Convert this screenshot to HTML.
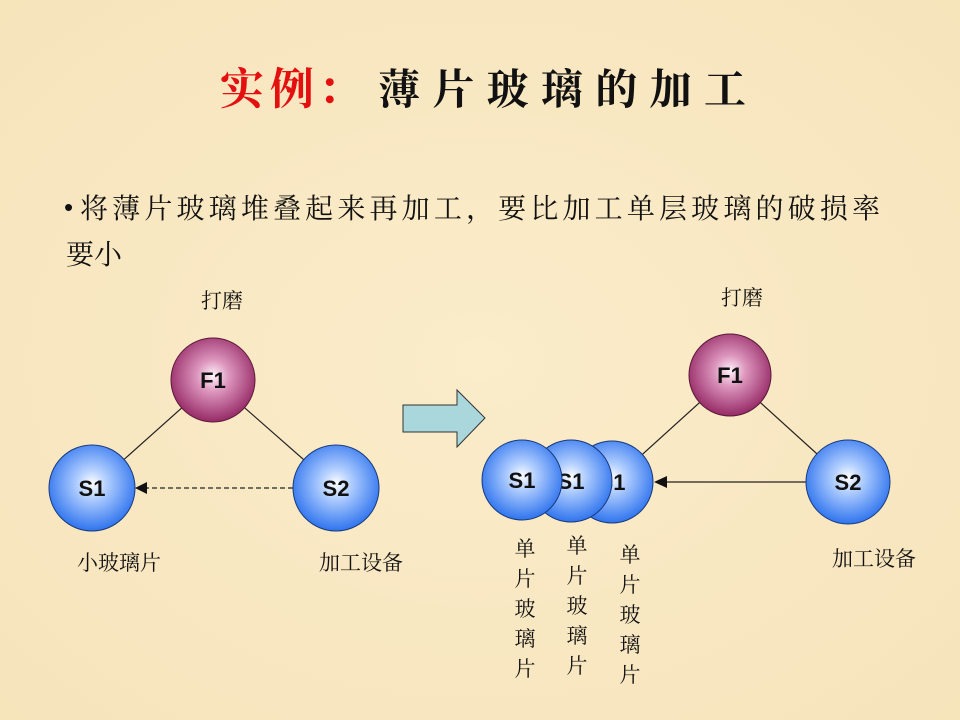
<!DOCTYPE html>
<html><head><meta charset="utf-8"><style>
html,body{margin:0;padding:0}
body{width:960px;height:720px;background:#f9e9c6;overflow:hidden}
svg{display:block}
.s{font-family:"Noto Serif CJK SC",serif}
.c{font-family:"Noto Serif CJK SC","Noto Sans CJK SC",serif}
.n{font-family:"Liberation Sans",sans-serif;font-weight:bold;font-size:22px;fill:#111}
</style></head><body>
<svg width="960" height="720" viewBox="0 0 960 720">
<defs>
<radialGradient id="b" cx="50%" cy="45%" r="55%">
<stop offset="0" stop-color="#ffffff"/><stop offset="0.3" stop-color="#b4d0ff"/><stop offset="1" stop-color="#2f74ee"/>
</radialGradient>
<radialGradient id="p" cx="50%" cy="45%" r="55%">
<stop offset="0" stop-color="#fff4fa"/><stop offset="0.35" stop-color="#dc95bd"/><stop offset="1" stop-color="#962a66"/>
</radialGradient>
<radialGradient id="bg" cx="50%" cy="50%" r="70%">
<stop offset="0" stop-color="#fbecca"/><stop offset="1" stop-color="#f6e4bb"/>
</radialGradient>
</defs>
<rect width="960" height="720" fill="url(#bg)"/>
<g class="s" font-size="44" font-weight="bold" fill="#e41010">
<text x="220" y="104">实</text><text x="270" y="104">例</text><text x="318" y="104">：</text>
</g>
<text x="378" y="104" class="s" font-size="42" font-weight="bold" fill="#111" textLength="368">薄片玻璃的加工</text>
<text x="64" y="216" font-family="Liberation Sans,sans-serif" font-size="26" fill="#111">•</text>
<text x="80" y="218" class="c" font-size="28" fill="#111" textLength="800">将薄片玻璃堆叠起来再加工，要比加工单层玻璃的破损率</text>
<text x="66" y="264" class="c" font-size="28" fill="#111">要小</text>

<line x1="213" y1="380" x2="92" y2="488" stroke="#222" stroke-width="1.2"/>
<line x1="213" y1="380" x2="336" y2="488" stroke="#222" stroke-width="1.2"/>
<line x1="293" y1="488" x2="146" y2="488" stroke="#222" stroke-width="1.3" stroke-dasharray="5,3"/>
<polygon points="135,488 147,482 147,494" fill="#111"/>
<circle cx="213" cy="380" r="42" fill="url(#p)" stroke="#5a1a3a" stroke-width="1"/>
<circle cx="92" cy="488" r="43" fill="url(#b)" stroke="#1a3a7a" stroke-width="1"/>
<circle cx="336" cy="488" r="43" fill="url(#b)" stroke="#1a3a7a" stroke-width="1"/>
<text x="213" y="388" text-anchor="middle" class="n">F1</text>
<text x="92" y="496" text-anchor="middle" class="n">S1</text>
<text x="336" y="496" text-anchor="middle" class="n">S2</text>
<text x="222" y="308" text-anchor="middle" class="c" font-size="21" fill="#111">打磨</text>
<text x="77" y="570" class="c" font-size="21" fill="#111">小玻璃片</text>
<text x="319" y="570" class="c" font-size="21" fill="#111">加工设备</text>

<polygon points="403,405 457,405 457,390 485,418 457,447 457,432 403,432" fill="#a9d7dc" stroke="#333" stroke-width="1"/>

<line x1="730" y1="375" x2="613" y2="481" stroke="#222" stroke-width="1.2"/>
<line x1="730" y1="375" x2="848" y2="482" stroke="#222" stroke-width="1.2"/>
<line x1="806" y1="482" x2="664" y2="482" stroke="#222" stroke-width="1.3"/>
<polygon points="654,482 667,476 667,488" fill="#111"/>
<circle cx="612" cy="482" r="41" fill="url(#b)" stroke="#1a3a7a" stroke-width="1"/>
<text x="612" y="490" text-anchor="middle" class="n">S1</text>
<circle cx="571" cy="481" r="41" fill="url(#b)" stroke="#1a3a7a" stroke-width="1"/>
<text x="571" y="489" text-anchor="middle" class="n">S1</text>
<circle cx="522" cy="480" r="40" fill="url(#b)" stroke="#1a3a7a" stroke-width="1"/>
<text x="522" y="488" text-anchor="middle" class="n">S1</text>
<circle cx="730" cy="375" r="41" fill="url(#p)" stroke="#5a1a3a" stroke-width="1"/>
<text x="730" y="383" text-anchor="middle" class="n">F1</text>
<circle cx="848" cy="482" r="42" fill="url(#b)" stroke="#1a3a7a" stroke-width="1"/>
<text x="848" y="490" text-anchor="middle" class="n">S2</text>
<text x="742" y="305" text-anchor="middle" class="c" font-size="21" fill="#111">打磨</text>
<text x="832" y="566" class="c" font-size="21" fill="#111">加工设备</text>

<g class="c" font-size="21" fill="#111" text-anchor="middle">
<text x="525" y="556">单</text><text x="525" y="586">片</text><text x="525" y="616">玻</text><text x="525" y="646">璃</text><text x="525" y="676">片</text>
<text x="577" y="553">单</text><text x="577" y="583">片</text><text x="577" y="613">玻</text><text x="577" y="643">璃</text><text x="577" y="673">片</text>
<text x="630" y="562">单</text><text x="630" y="592">片</text><text x="630" y="622">玻</text><text x="630" y="652">璃</text><text x="630" y="682">片</text>
</g>
</svg>
</body></html>
